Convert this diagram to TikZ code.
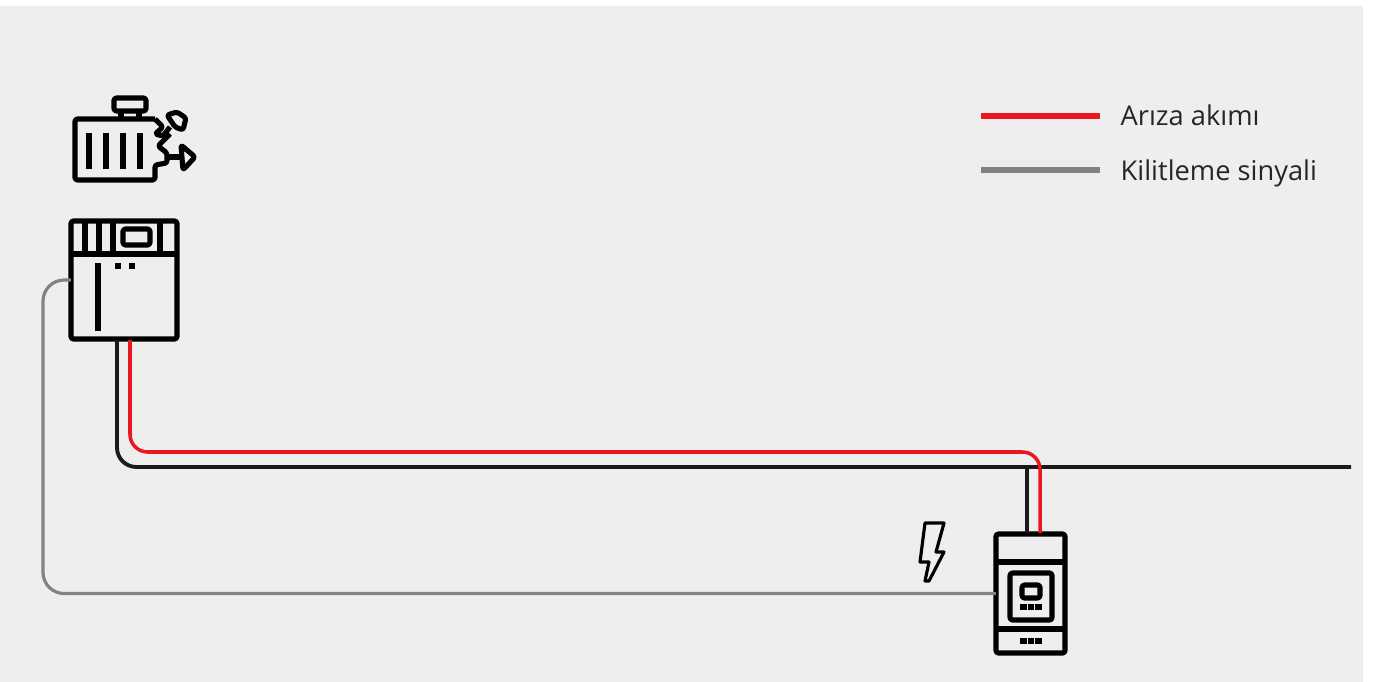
\documentclass[tikz,border=0pt]{standalone}
\usepackage{fontspec}
\setmainfont{Open Sans}
\definecolor{panelgrey}{HTML}{EEEEEE}
\definecolor{faultred}{HTML}{EC1620}
\definecolor{signalgrey}{HTML}{808285}
\definecolor{wireblack}{HTML}{1A1A1A}
\tikzset{
  icon/.style={draw=black,line width=1.45pt,line join=round,rounded corners=0.7pt},
  iconbox/.style={icon,inner sep=0pt,outer sep=0pt},
  dot/.style={fill=black,inner sep=0pt,minimum size=1.8pt},
  wire/.style={draw=wireblack,line width=1.1pt,rounded corners=5.5pt},
  faultwire/.style={draw=faultred,line width=1pt,rounded corners=5pt},
  signalwire/.style={draw=signalgrey,line width=0.9pt,rounded corners=6pt},
  legendtext/.style={anchor=base west,inner sep=0pt,font=\fontsize{7.75pt}{9pt}\selectfont,text=black!85}
}
\begin{document}
\begin{tikzpicture}[x=0.01cm,y=-0.01cm]
    \useasboundingbox (0,0) rectangle (1376,682);
    \fill[white] (0,0) rectangle (1376,682);
    \fill[panelgrey] (0,6) rectangle (1363,682);
    % boxes
    \node[iconbox,minimum width=1.06cm,minimum height=1.18cm] (relay) at (124,280) {};
    \node[iconbox,minimum width=0.69cm,minimum height=1.19cm] (device) at (1030.5,593.5) {};
    % wire ends
    \coordinate (blackstart) at (117,340); \coordinate (blackturn) at (117,467);
    \coordinate (blackend) at (1351,467);
    \coordinate (redstart) at (130,340); \coordinate (redturn) at (130,452);
    \coordinate (redover) at (1040,452); \coordinate (redend) at (1040,533);
    \coordinate (stemtop) at (1027,467); \coordinate (stemend) at (1027,533);
    \coordinate (greyA) at (43,280); \coordinate (greyB) at (43,593.5);
    % wires
    \draw[signalwire] (relay.west)--(greyA)--(greyB)--(device.west);
    \draw[wire] (blackstart)--(blackturn)--(blackend);
    \draw[wire] (stemtop)--(stemend);
    \draw[faultwire] (redstart)--(redturn)--(redover)--(redend);
    % engine
    \draw[icon] (155,119)--(75,119)--(75,180)--(155,180)--(155,165)--(167,163)--(167,153)--(158,146)--(170,134);
    \draw[icon] (155,119)--(163,127)--(155,134)--(163,136)--(170,127);
    \draw[icon] (121,119)--(121,110); \draw[icon] (139,119)--(139,110);
    \draw[icon] (114,98) rectangle (146,111);
    \foreach \x in {89,106,123,140} \draw[black,line width=1.7pt] (\x,133)--(\x,169);
    \draw[icon] (167,115)--(177,112)--(186,118)--(183,130)--(175,127)--cycle;
    \draw[icon] (168,157)--(181,157); \draw[icon] (181,145)--(195,157)--(183,170)--cycle;
    % relay details
    \draw[icon] (relay.north west |- 0,254)--(relay.north east |- 0,254);
    \foreach \x in {85,99,113,160} \draw[black,line width=1.45pt] (\x,220)--(\x,254);
    \draw[icon] (123,229) rectangle (150,245);
    \draw[black,line width=1.9pt] (98,263)--(98,331);
    \node[dot] (dotA) at (118,266) {}; \node[dot] (dotB) at (132,266) {};
    % device details
    \draw[icon] (device.west |- 0,562)--(device.east |- 0,562);
    \draw[icon] (device.west |- 0,629)--(device.east |- 0,629);
    \draw[icon] (1010,573) rectangle (1052,620);
    \draw[icon] (1022,585) rectangle (1040,598);
    \foreach \x in {1023.5,1031,1038.5} {
      \node[dot,minimum size=1.75pt] at (\x,607) {}; \node[dot,minimum size=1.75pt] at (\x,641) {};
    }
    % bolt
    \draw[black,line width=0.9pt,line join=round] (925,523)--(944,523)--(936,552)--(944,552)--(929,581)--(925,581)--(929,562)--(920,562)--cycle;
    % legend
    \coordinate (redA) at (981,116); \coordinate (redB) at (1100,116);
    \coordinate (greyC) at (981,170); \coordinate (greyD) at (1100,170);
    \draw[faultred,line width=1.6pt] (redA)--(redB);
    \draw[signalgrey,line width=1.6pt] (greyC)--(greyD);
    \node[legendtext] (faultlabel) at (1120,126) {Arıza akımı};
    \node[legendtext] (signallabel) at (1120,180) {Kilitleme sinyali};
  \end{tikzpicture}
\end{document}
